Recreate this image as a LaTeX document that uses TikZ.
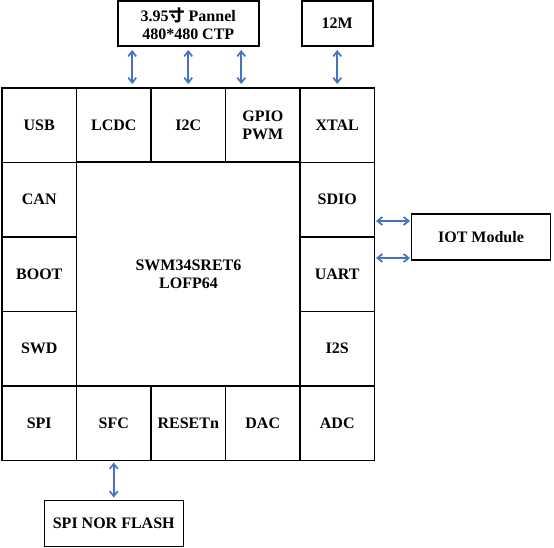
\documentclass[tikz,border=0pt]{standalone}
\usepackage{fontspec}
\setmainfont{Liberation Serif}
\newfontfamily\cjk{Noto Sans CJK SC}
\usepackage{tikz}
\usetikzlibrary{arrows.meta,
                calc,
                positioning}
\definecolor{pilblaa}{RGB}{68,114,196}
\tikzset{
	%Define standard arrow tip
	>={Straight Barb[length=5pt,width=8pt]},
	%Define style for the pin cells
	cell/.style={
	       rectangle,
	       draw=black, line width=1.5pt,
	       minimum width=74.5pt,
	       minimum height=74.5pt,
	       inner sep=0pt, outer sep=0pt,
	       align=center,
	       font=\bfseries\fontsize{16}{18}\selectfont},
	kjerne/.style={
	       cell,
	       minimum width=224pt,
	       minimum height=224pt},
	boks/.style={
	       rectangle,
	       draw=black, line width=1.5pt,
	       minimum height=45pt,
	       inner sep=0pt, outer sep=0pt,
	       align=center,
	       font=\bfseries\fontsize{16}{18}\selectfont},
	% Define arrow style
	dobbel/.style={
	       <->,
	       draw=pilblaa,
	       line width=1.7pt,
	       shorten <=4pt,
	       shorten >=4pt,}
}
\begin{document}
\begin{tikzpicture}[node distance=0pt]
		\useasboundingbox (0,0) rectangle (554pt,-548pt);
		% top row
		\node[cell] (usb) at (39.25pt,-125.25pt) {USB};
		\node[cell, right=of usb] (lcdc) {LCDC};
		\node[cell, right=of lcdc] (i2c) {I2C};
		\node[cell, right=of i2c] (gpio) {GPIO\\PWM};
		\node[cell, right=of gpio] (xtal) {XTAL};
		% left column
		\node[cell, below=of usb] (can) {CAN};
		\node[cell, below=of can] (boot) {BOOT};
		\node[cell, below=of boot] (swd) {SWD};
		% right column
		\node[cell, below=of xtal] (sdio) {SDIO};
		\node[cell, below=of sdio] (uart) {UART};
		\node[cell, below=of uart] (i2s) {I2S};
		% bottom row
		\node[cell, below=of swd] (spi) {SPI};
		\node[cell, right=of spi] (sfc) {SFC};
		\node[cell, right=of sfc] (reset) {RESETn};
		\node[cell, right=of reset] (dac) {DAC};
		\node[cell, right=of dac] (adc) {ADC};
		\node[kjerne, right=of boot] (mcu) {SWM34SRET6\\LOFP64};
		% outside parts
		\node[boks, minimum width=141pt, above=42pt of i2c] (panel) {3.95{\cjk 寸} Pannel\\480*480 CTP};
		\node[boks, minimum width=71pt, above=42pt of xtal] (osc) {12M};
		\node[boks, minimum width=139pt, minimum height=46pt, right=37pt of sdio.south east] (iot) {IOT Module};
		\node[boks, minimum width=139pt, minimum height=46pt, below=40pt of sfc] (flash) {SPI NOR FLASH};
		\coordinate (p1) at ($(panel.south)+(-56pt,0)$);
		\coordinate (p2) at ($(panel.south)+(0pt,0)$);
		\coordinate (p3) at ($(panel.south)+(53pt,0)$);
		\coordinate (i1) at ($(iot.west)+(0,16pt)$);
		\coordinate (i2) at ($(iot.west)+(0,-21pt)$);
		\draw[dobbel] (p1) -- (p1 |- lcdc.north);
		\draw[dobbel] (p2) -- (i2c.north);
		\draw[dobbel] (p3) -- (p3 |- gpio.north);
		\draw[dobbel] (osc.south) -- (osc.south |- xtal.north);
		\draw[dobbel, shorten <=1.5pt, shorten >=1.5pt] (i1 -| sdio.east) -- (i1);
		\draw[dobbel, shorten <=1.5pt, shorten >=1.5pt] (i2 -| uart.east) -- (i2);
		\draw[dobbel, shorten <=2pt, shorten >=3pt] (sfc.south) -- (flash.north);
	\end{tikzpicture}
\end{document}
